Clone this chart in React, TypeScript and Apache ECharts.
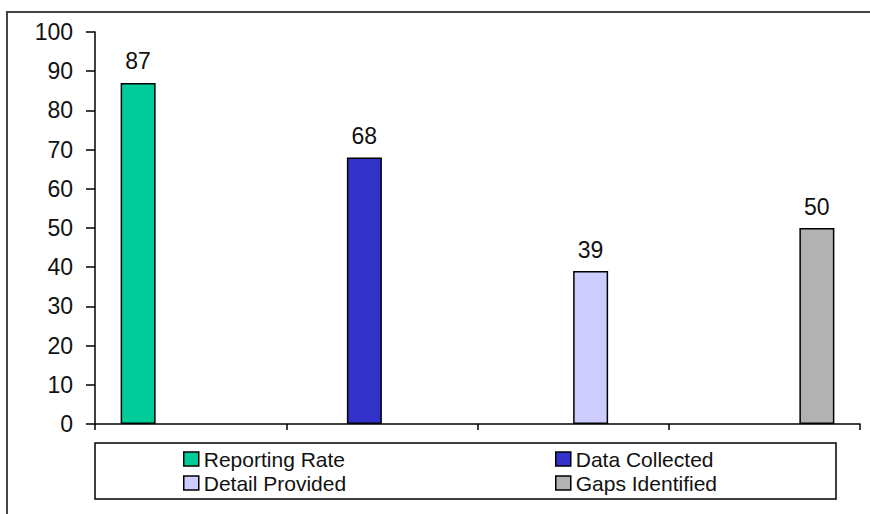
import React, { useEffect, useRef } from "react";
import * as echarts from "echarts";

const categories = ["", "", "", ""];
const yTicks = [0, 10, 20, 30, 40, 50, 60, 70, 80, 90, 100];
const seriesNames = ["Reporting Rate", "Data Collected", "Detail Provided", "Gaps Identified"];
const seriesColors = ["#00CC99", "#3333CC", "#CCCCFF", "#B2B2B2"];
const reportingRate = [87, null, null, null];
const dataCollected = [null, 68, null, null];
const detailProvided = [null, null, 39, null];
const gapsIdentified = [null, null, null, 50];

const FONT = "'Liberation Sans', Arial, sans-serif";

export default function App() {
  const ref = useRef<HTMLDivElement>(null);
  useEffect(() => {
    if (!ref.current) return;
    const chart = echarts.init(ref.current, null, { renderer: "svg" });
    const values = [reportingRate, dataCollected, detailProvided, gapsIdentified];
    const legendItem = {
      orient: "vertical" as const,
      padding: 0,
      itemGap: 0,
      itemWidth: 15,
      itemHeight: 14,
      icon: "rect",
      top: 447,
      itemStyle: { borderColor: "#000", borderWidth: 1.5 },
      textStyle: { fontFamily: FONT, fontSize: 21, color: "#111", lineHeight: 24 },
      selectedMode: false,
    };
    chart.setOption({
      animation: false,
      backgroundColor: "#fff",
      grid: { left: 95, right: 10, top: 32, bottom: 90, containLabel: false },
      xAxis: {
        type: "category",
        data: categories,
        axisLine: { lineStyle: { color: "#000", width: 1.5 } },
        axisTick: { show: true, length: 6, interval: 0, alignWithLabel: false, lineStyle: { color: "#000", width: 1.5 } },
        axisLabel: { show: false },
        splitLine: { show: false },
      },
      yAxis: {
        type: "value",
        min: yTicks[0],
        max: yTicks[yTicks.length - 1],
        interval: 10,
        axisLine: { show: true, lineStyle: { color: "#000", width: 1.5 } },
        axisTick: { show: true, length: 9, lineStyle: { color: "#000", width: 1.5 } },
        axisLabel: { margin: 22, fontFamily: FONT, fontSize: 23, color: "#111" },
        splitLine: { show: false },
      },
      legend: [
        { ...legendItem, left: 183, data: [seriesNames[0], seriesNames[2]] },
        { ...legendItem, left: 555, data: [seriesNames[1], seriesNames[3]] },
      ],
      graphic: [
        {
          type: "rect",
          shape: { x: 7, y: 12, width: 900, height: 600 },
          style: { fill: "none", stroke: "#444", lineWidth: 2 },
          silent: true,
        },
        {
          type: "rect",
          shape: { x: 95, y: 443, width: 741, height: 56 },
          style: { fill: "none", stroke: "#000", lineWidth: 1.5 },
          silent: true,
        },
      ],
      series: seriesNames.map((name, i) => ({
        name,
        type: "bar",
        data: values[i],
        barWidth: 35,
        barGap: "0%",
        itemStyle: { color: seriesColors[i], borderColor: "#000", borderWidth: 1.5 },
        label: {
          show: true,
          position: "top",
          distance: 10,
          fontFamily: FONT,
          fontSize: 23,
          color: "#111",
        },
      })),
    });
    return () => chart.dispose();
  }, []);
  return (
    <div
      ref={ref}
      style={{ position: "fixed", left: 0, top: 0, width: 870, height: 514 }}
    />
  );
}
